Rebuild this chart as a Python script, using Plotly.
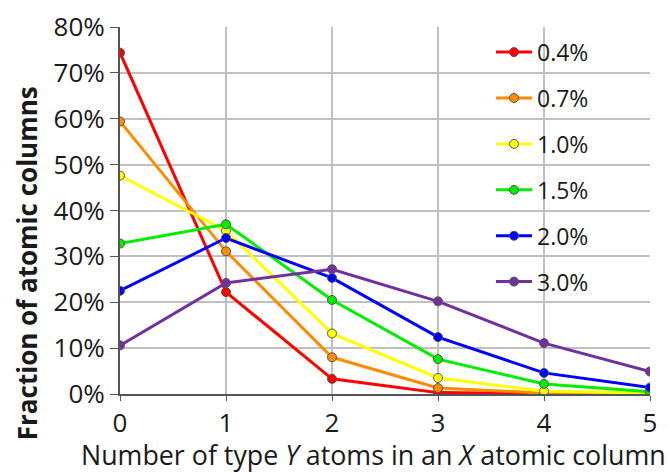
import plotly.graph_objects as go

x_vals = [0, 1, 2, 3, 4, 5]
series_names = ["0.4%", "0.7%", "1.0%", "1.5%", "2.0%", "3.0%"]
s04 = [74.4, 22.2, 3.3, 0.3, 0.1, 0.0]
s07 = [59.4, 31.1, 8.0, 1.3, 0.2, 0.0]
s10 = [47.6, 35.6, 13.2, 3.5, 0.6, 0.2]
s15 = [32.8, 37.0, 20.5, 7.6, 2.2, 0.5]
s20 = [22.5, 34.0, 25.3, 12.4, 4.6, 1.4]
s30 = [10.6, 24.2, 27.2, 20.2, 11.1, 4.9]
series_values = [s04, s07, s10, s15, s20, s30]
colors = ["#ff0000", "#ff8c00", "#ffff00", "#00ee00", "#0000ff", "#7030a0"]
y_ticks = [0, 10, 20, 30, 40, 50, 60, 70, 80]
y_tick_labels = [f"{v}%" for v in y_ticks]
x_title = "Number of type <i>Y</i> atoms in an <i>X</i> atomic column"
y_title = "<b>Fraction of atomic columns</b>"

font_family = "Open Sans, Liberation Sans, sans-serif"

fig = go.Figure()
for i, (name, vals, c) in enumerate(zip(series_names, series_values, colors)):
    fig.add_trace(go.Scatter(
        x=x_vals, y=vals, name=name, mode="lines+markers",
        legendgroup=f"g{i}",
        line=dict(color=c, width=3),
        marker=dict(color=c, size=9, line=dict(color="#555555", width=1)),
    ))

fig.update_layout(
    width=669, height=472, autosize=False,
    margin=dict(l=120, r=19, t=27, b=78),
    paper_bgcolor="white", plot_bgcolor="white",
    font=dict(family=font_family, color="#1a1a1a", size=22),
    showlegend=True,
    legend=dict(
        x=0.70, y=0.99, xanchor="left", yanchor="top",
        bgcolor="rgba(0,0,0,0)", font=dict(size=23, color="#1a1a1a"),
        tracegroupgap=13, itemwidth=36,
    ),
    xaxis=dict(
        range=[0, 5], tickmode="array", tickvals=x_vals,
        showgrid=True, gridcolor="#c0c0c0", gridwidth=1.5,
        showline=True, linecolor="#555555", linewidth=2,
        ticks="outside", ticklen=5, tickcolor="#555555",
        tickfont=dict(size=26), zeroline=False, automargin=False,
    ),
    yaxis=dict(
        range=[0, 80], tickmode="array", tickvals=y_ticks, ticktext=y_tick_labels,
        showgrid=True, gridcolor="#c0c0c0", gridwidth=1.5,
        showline=True, linecolor="#555555", linewidth=2,
        ticks="outside", ticklen=8, tickcolor="#555555",
        tickfont=dict(size=26), zeroline=False, automargin=False,
    ),
    annotations=[
        dict(text=x_title, xref="paper", yref="paper", x=0.479, y=-0.166,
             xanchor="center", yanchor="middle", showarrow=False,
             font=dict(size=26.8, color="#1a1a1a")),
        dict(text=y_title, xref="paper", yref="paper", x=-0.175, y=0.357,
             xanchor="center", yanchor="middle", showarrow=False, textangle=-90,
             font=dict(size=26, color="#1a1a1a")),
    ],
)

fig.write_html(
    "out.html",
    config={"displayModeBar": False},
    post_script="document.body.style.margin='0';document.body.style.overflow='hidden';",
)
